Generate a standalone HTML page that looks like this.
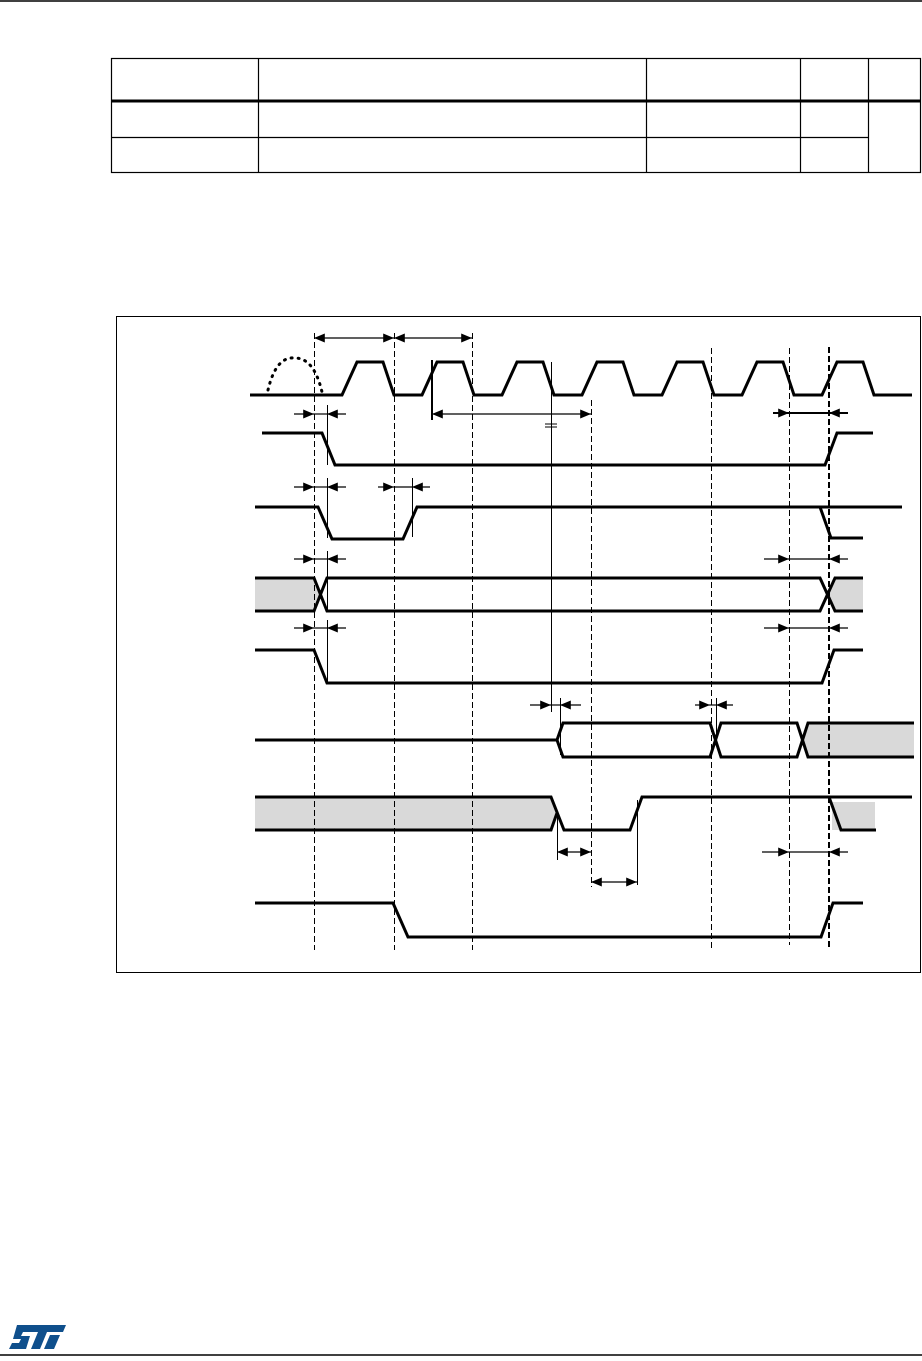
<!DOCTYPE html>
<html><head><style>html,body{margin:0;padding:0;background:#fff}svg{display:block}</style></head><body>
<svg width="922" height="1361" viewBox="0 0 922 1361" xmlns="http://www.w3.org/2000/svg">
<defs>
<marker id="a" viewBox="0 0 12 10" refX="12" refY="5" markerWidth="12" markerHeight="9" markerUnits="userSpaceOnUse" orient="auto-start-reverse"><path d="M0,0L12,5L0,10z" fill="#000"/></marker>
</defs>
<line x1="0" y1="1" x2="922" y2="1" stroke="#000" stroke-width="1.5"/>
<g stroke="#000" fill="none">
<rect x="111.5" y="58.5" width="809" height="114" stroke-width="1.2"/>
<line x1="111" y1="101" x2="921" y2="101" stroke-width="3"/>
<line x1="111" y1="137.5" x2="868" y2="137.5" stroke-width="1.2"/>
<line x1="258.5" y1="58" x2="258.5" y2="173" stroke-width="1.2"/>
<line x1="646.5" y1="58" x2="646.5" y2="173" stroke-width="1.2"/>
<line x1="800.5" y1="58" x2="800.5" y2="173" stroke-width="1.2"/>
<line x1="868.5" y1="58" x2="868.5" y2="173" stroke-width="1.2"/>
</g>
<rect x="116.5" y="316.5" width="804" height="656" fill="none" stroke="#000" stroke-width="1"/>
<g fill="#d9d9d9">
<polygon points="255,578 314,578 320,594 314,611 255,611"/>
<polygon points="835,578 863,578 863,611 835,611 829,594"/>
<polygon points="808,723 914,723 914,757 808,757 802,740"/>
<polygon points="255,797 551,797 557,813 551,830 255,830"/>
<rect x="832" y="802" width="43" height="28"/>
</g>
<g stroke="#000" stroke-width="1" stroke-dasharray="6,3" fill="none">
<line x1="314.5" y1="333" x2="314.5" y2="950"/>
<line x1="394.5" y1="333" x2="394.5" y2="950"/>
<line x1="472.5" y1="333" x2="472.5" y2="950"/>
<line x1="591.5" y1="400" x2="591.5" y2="887"/>
<line x1="711.5" y1="348" x2="711.5" y2="950"/>
<line x1="789.5" y1="348" x2="789.5" y2="945"/>
<line x1="829" y1="347" x2="829" y2="950" stroke-width="2"/>
</g>
<g stroke="#000" stroke-width="1">
<line x1="551.5" y1="362" x2="551.5" y2="712"/>
<line x1="432" y1="360" x2="432" y2="420" stroke-width="2"/>
<line x1="327.5" y1="405" x2="327.5" y2="465"/>
<line x1="327.5" y1="478" x2="327.5" y2="538"/>
<line x1="327.5" y1="551" x2="327.5" y2="611"/>
<line x1="327.5" y1="620" x2="327.5" y2="683"/>
<line x1="412.5" y1="478" x2="412.5" y2="537"/>
<line x1="560.5" y1="698" x2="560.5" y2="755"/>
<line x1="716.5" y1="698" x2="716.5" y2="740"/>
<line x1="557.5" y1="813" x2="557.5" y2="860"/>
<line x1="637.5" y1="800" x2="637.5" y2="885"/>
</g>
<g stroke="#000" stroke-width="3" fill="none" stroke-linejoin="miter">
<polyline points="250,395 342,395 357,362 383,362 394,395 422,395 437,362 463,362 474,395 502,395 517,362 543,362 554,395 582,395 597,362 623,362 634,395 662,395 677,362 703,362 714,395 742,395 757,362 783,362 794,395 822,395 837,362 863,362 874,395 912,395"/>
<polyline points="262,433 322,433 335,465 825,465 837,433 873,433"/>
<polyline points="255,507 318,507 332,539 403,539 417,507 902,507"/>
<polyline points="820,507 831,538 863,538"/>
<polyline points="255,578 314,578 327,611 820,611 835,578 863,578"/>
<polyline points="255,611 314,611 327,578 820,578 835,611 863,611"/>
<polyline points="255,650 314,650 327,683 822,683 834,650 863,650"/>
<polyline points="255,740 557,740 563,723 710,723 721,757 797,757 808,723 914,723"/>
<polyline points="557,740 563,757 710,757 721,723 797,723 808,757 914,757"/>
<polyline points="255,797 551,797 564,830 630,830 642,797 912,797"/>
<polyline points="255,830 551,830 557,813"/>
<polyline points="829,797 841,830 876,830"/>
<polyline points="255,903 393,903 408,937 821,937 833,903 863,903"/>
</g>
<path d="M268,390 Q276,356 295,358 Q314,358 322,392" fill="none" stroke="#000" stroke-width="3" stroke-dasharray="1,6" stroke-linecap="round"/>
<line x1="545" y1="424" x2="557" y2="424" stroke="#000" stroke-width="1"/>
<line x1="545" y1="427" x2="557" y2="427" stroke="#000" stroke-width="1"/>
<g stroke="#000" stroke-width="1.2" fill="none">
<line x1="314" y1="338" x2="394" y2="338" marker-start="url(#a)" marker-end="url(#a)"/>
<line x1="394" y1="338" x2="472" y2="338" marker-start="url(#a)" marker-end="url(#a)"/>
<line x1="432" y1="414" x2="591" y2="414" marker-start="url(#a)" marker-end="url(#a)"/>
<line x1="557" y1="852" x2="591" y2="852" marker-start="url(#a)" marker-end="url(#a)"/>
<line x1="591" y1="882" x2="637" y2="882" marker-start="url(#a)" marker-end="url(#a)"/>
<line x1="294" y1="414" x2="314" y2="414" marker-end="url(#a)"/><line x1="346" y1="414" x2="327" y2="414" marker-end="url(#a)"/><line x1="314" y1="414" x2="327" y2="414"/>
<line x1="294" y1="487" x2="314" y2="487" marker-end="url(#a)"/><line x1="346" y1="487" x2="327" y2="487" marker-end="url(#a)"/><line x1="314" y1="487" x2="327" y2="487"/>
<line x1="378" y1="487" x2="394" y2="487" marker-end="url(#a)"/><line x1="430" y1="487" x2="412" y2="487" marker-end="url(#a)"/><line x1="394" y1="487" x2="412" y2="487"/>
<line x1="294" y1="559" x2="314" y2="559" marker-end="url(#a)"/><line x1="346" y1="559" x2="327" y2="559" marker-end="url(#a)"/><line x1="314" y1="559" x2="327" y2="559"/>
<line x1="294" y1="628" x2="314" y2="628" marker-end="url(#a)"/><line x1="346" y1="628" x2="327" y2="628" marker-end="url(#a)"/><line x1="314" y1="628" x2="327" y2="628"/>
<line x1="773" y1="413" x2="789" y2="413" marker-end="url(#a)" stroke-width="2"/><line x1="848" y1="413" x2="829" y2="413" marker-end="url(#a)" stroke-width="2"/><line x1="789" y1="413" x2="829" y2="413" stroke-width="2"/>
<line x1="764" y1="559" x2="789" y2="559" marker-end="url(#a)"/><line x1="848" y1="559" x2="829" y2="559" marker-end="url(#a)"/><line x1="789" y1="559" x2="829" y2="559"/>
<line x1="764" y1="628" x2="789" y2="628" marker-end="url(#a)"/><line x1="848" y1="628" x2="829" y2="628" marker-end="url(#a)"/><line x1="789" y1="628" x2="829" y2="628"/>
<line x1="762" y1="852" x2="789" y2="852" marker-end="url(#a)"/><line x1="848" y1="852" x2="829" y2="852" marker-end="url(#a)"/><line x1="789" y1="852" x2="829" y2="852"/>
<line x1="530" y1="705" x2="551" y2="705" marker-end="url(#a)"/><line x1="581" y1="705" x2="560" y2="705" marker-end="url(#a)"/><line x1="551" y1="705" x2="560" y2="705"/>
<line x1="695" y1="705" x2="710" y2="705" marker-end="url(#a)"/><line x1="733" y1="705" x2="716" y2="705" marker-end="url(#a)"/><line x1="710" y1="705" x2="716" y2="705"/>
</g>
<g fill="#0f4f8c">
<polygon points="17,1325 66,1325 63,1332 47,1332 40,1349 31,1349 38,1332 23,1332 21,1336 30,1336 26,1349 9,1349 12,1343 19,1343 21,1339 13,1339"/>
<polygon points="50,1335 60,1335 54,1349 44,1349"/>
</g>
<line x1="0" y1="1355" x2="922" y2="1355" stroke="#000" stroke-width="1.5"/>
</svg>
</body></html>
